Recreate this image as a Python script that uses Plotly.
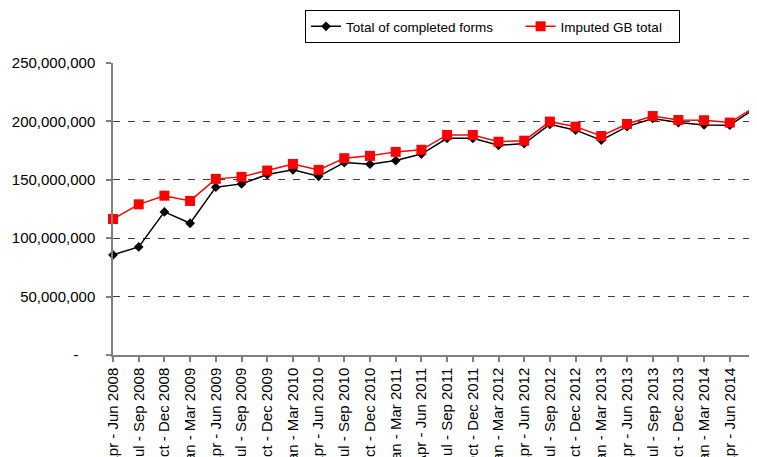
"""Quarterly completed forms vs imputed GB total."""

import plotly.graph_objects as go

quarters = [
    "Apr - Jun 2008", "Jul - Sep 2008", "Oct - Dec 2008", "Jan - Mar 2009",
    "Apr - Jun 2009", "Jul - Sep 2009", "Oct - Dec 2009", "Jan - Mar 2010",
    "Apr - Jun 2010", "Jul - Sep 2010", "Oct - Dec 2010", "Jan - Mar 2011",
    "Apr - Jun 2011", "Jul - Sep 2011", "Oct - Dec 2011", "Jan - Mar 2012",
    "Apr - Jun 2012", "Jul - Sep 2012", "Oct - Dec 2012", "Jan - Mar 2013",
    "Apr - Jun 2013", "Jul - Sep 2013", "Oct - Dec 2013", "Jan - Mar 2014",
    "Apr - Jun 2014", "Jul - Sep 2014",
]

completed_forms = [
    85.7e6, 92.5e6, 122.5e6, 112.8e6, 143.7e6, 146.5e6, 154.5e6, 158.5e6,
    153.0e6, 164.8e6, 163.4e6, 166.5e6, 172.0e6, 185.5e6, 185.5e6, 179.5e6,
    181.0e6, 197.5e6, 192.5e6, 184.0e6, 195.5e6, 202.5e6, 199.0e6, 197.0e6,
    196.8e6, 211.5e6,
]

imputed_gb_total = [
    116.4e6, 129.0e6, 136.4e6, 131.9e6, 150.8e6, 152.5e6, 157.9e6, 163.6e6,
    158.5e6, 168.5e6, 170.5e6, 173.9e6, 175.7e6, 188.4e6, 188.4e6, 182.6e6,
    183.5e6, 199.8e6, 195.5e6, 187.5e6, 197.8e6, 204.6e6, 201.2e6, 201.0e6,
    199.0e6, 212.6e6,
]

y_ticks = [0, 50e6, 100e6, 150e6, 200e6, 250e6]
y_tick_text = ["-\u00a0\u00a0\u00a0\u00a0", "50,000,000", "100,000,000",
               "150,000,000", "200,000,000", "250,000,000"]

FONT = "Liberation Sans, Arial, sans-serif"
NBSP = "\u00a0"

# page body has an 8px margin, so the figure is drawn 8px in from the window;
# the plot runs past the window edge so the last quarter is cut like the original
W, H = 775, 449
PLOT_W = W - 105  # no right margin

fig = go.Figure()
fig.add_trace(go.Scatter(
    x=quarters, y=completed_forms, name="Total of completed forms" + NBSP * 6,
    mode="lines+markers", cliponaxis=False,
    line={"color": "#000000", "width": 1.5},
    marker={"symbol": "diamond", "size": 7.5, "color": "#000000"},
))
fig.add_trace(go.Scatter(
    x=quarters, y=imputed_gb_total, name="Imputed GB total" + NBSP * 3,
    mode="lines+markers", cliponaxis=False,
    line={"color": "#ff0000", "width": 1.5},
    marker={"symbol": "square", "size": 10, "color": "#ff0000"},
))

fig.update_layout(
    width=W, height=H,
    margin={"l": 105, "r": 0, "t": 55, "b": 102},
    paper_bgcolor="white", plot_bgcolor="white",
    font={"family": FONT, "size": 15, "color": "#000000"},
    showlegend=True,
    legend={
        "orientation": "h", "xref": "container", "yref": "container",
        "x": 297 / W, "y": 1 - 2 / H, "xanchor": "left", "yanchor": "top",
        "bordercolor": "#000000", "borderwidth": 1, "bgcolor": "white",
        "font": {"size": 13.5},
    },
)

# ~25.7 px per quarter, as measured on the original
fig.update_xaxes(
    range=[0, PLOT_W / 25.7], automargin=False, tickangle=-90,
    tickmode="array", tickvals=quarters, ticktext=quarters,
    ticklabeloverflow="allow",
    showline=True, linecolor="#808080", linewidth=1.5,
    ticks="outside", ticklen=5, tickcolor="#808080", tickwidth=1.5,
    showgrid=False, zeroline=False, tickfont={"size": 15},
)
fig.update_yaxes(
    range=[0, 250e6], automargin=False,
    tickvals=y_ticks, ticktext=y_tick_text,
    showline=True, linecolor="#808080", linewidth=1.5,
    ticks="outside", ticklen=5, tickcolor="#808080", tickwidth=1.5,
    showgrid=True, gridcolor="#404040", gridwidth=1, griddash="7px,8px",
    zeroline=False, tickfont={"size": 15}, ticklabelstandoff=8,
)

fig.write_html("out.html")
